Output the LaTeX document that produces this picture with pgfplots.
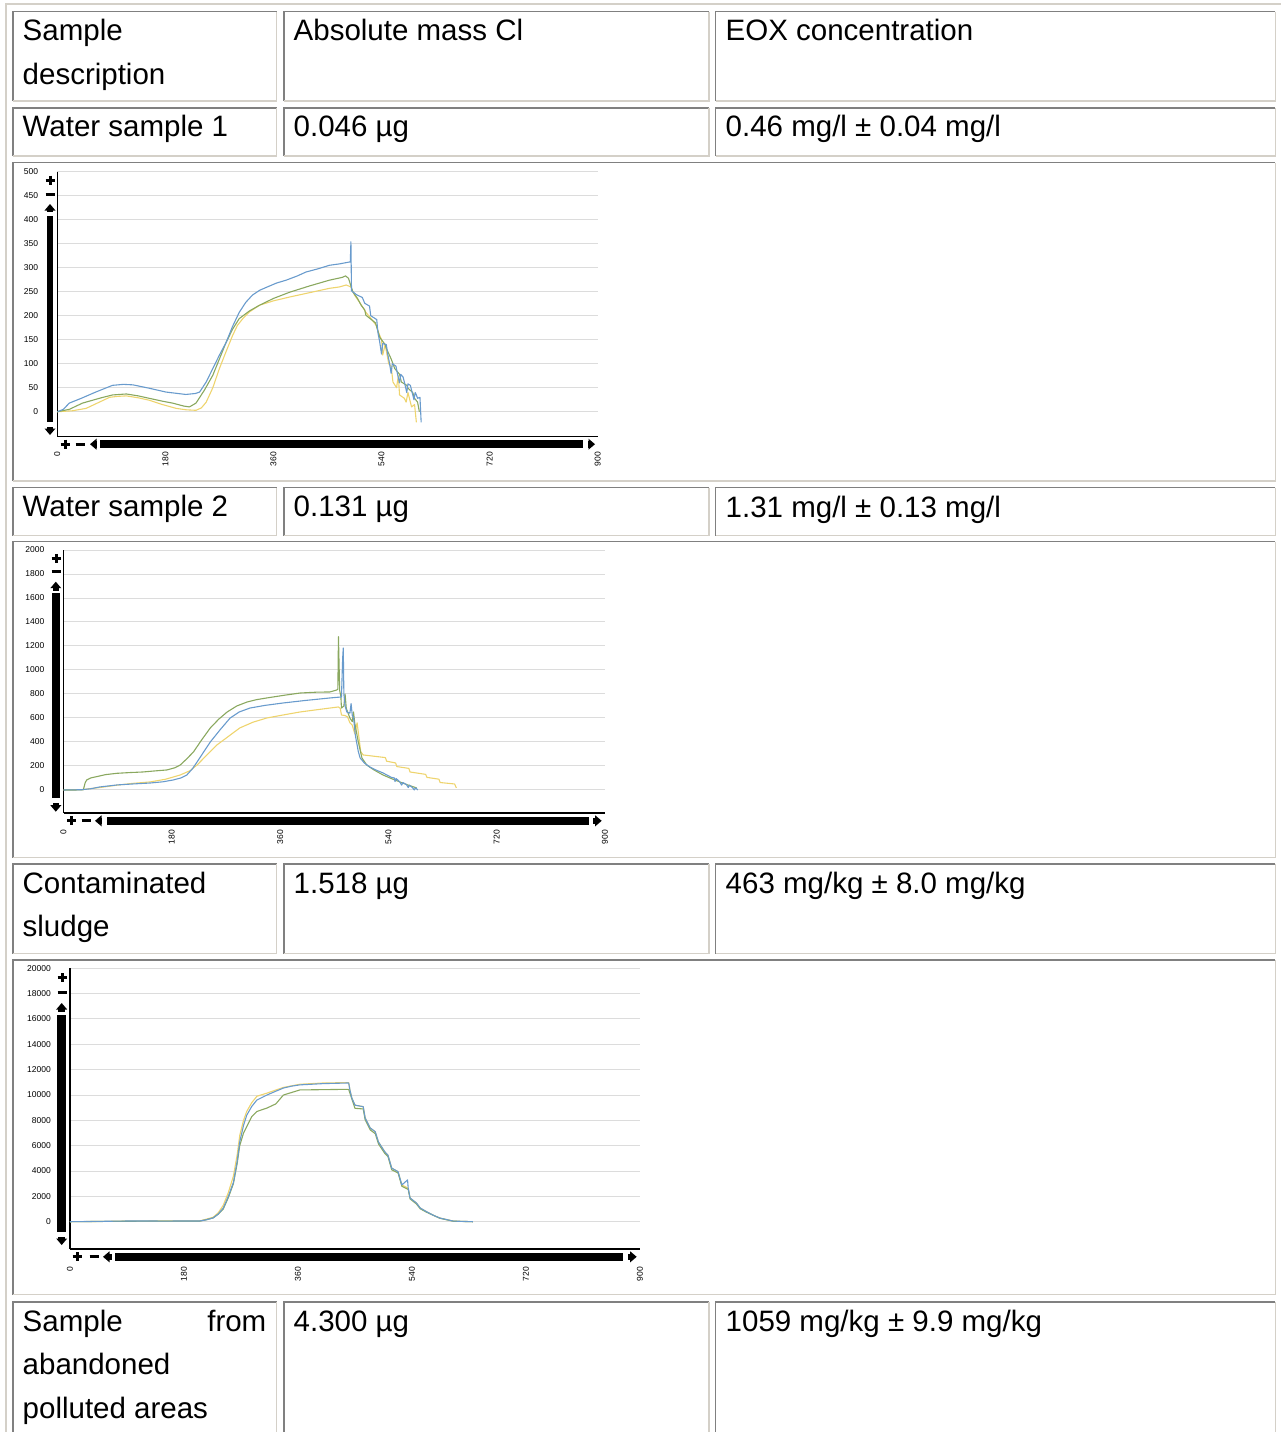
\documentclass[border=0pt]{standalone}
\usepackage{fontspec}
\setmainfont{Liberation Sans}
\usepackage{pgfplots}
\pgfplotsset{compat=1.18}
\definecolor{cblue}{RGB}{105,155,205}
\definecolor{cgreen}{RGB}{138,168,95}
\definecolor{cyellow}{RGB}{238,212,110}
\definecolor{gridgray}{RGB}{220,220,220}
\definecolor{darkb}{RGB}{128,128,128}
\definecolor{lightb}{RGB}{212,208,200}
\newcommand{\tfont}{\fontsize{29.5}{43.5}\selectfont}
\newcommand{\cell}[4]{%
  \draw[darkb, line width=1.5pt] (#1,#4) -- (#1,#2) -- (#3,#2);
  \draw[lightb, line width=1.5pt] (#3,#2) -- (#3,#4) -- (#1,#4);}
\newcommand{\plus}[2]{\draw[line width=3pt] (#1-4.5,#2)--(#1+4.5,#2) (#1,#2-4.5)--(#1,#2+4.5);}
\newcommand{\minus}[2]{\draw[line width=3pt] (#1-4.5,#2)--(#1+4.5,#2);}
\newcommand{\uparr}[3]{\fill (#1-5.5,#2+6.5) -- (#1,#2) -- (#1+5.5,#2+6.5) -- cycle; \fill (#1-3.3,#2+5) rectangle (#1+3.3,#3);}
\newcommand{\downarr}[3]{\fill (#1-5.5,#2-6.5) -- (#1,#2) -- (#1+5.5,#2-6.5) -- cycle; \fill (#1-3.3,#2-5) rectangle (#1+3.3,#3);}
\newcommand{\leftarr}[3]{\fill (#1+6.5,#2-5.5) -- (#1,#2) -- (#1+6.5,#2+5.5) -- cycle; \fill (#1+5,#2-3.3) rectangle (#3,#2+3.3);}
\newcommand{\rightarr}[3]{\fill (#1-6.5,#2-5.5) -- (#1,#2) -- (#1-6.5,#2+5.5) -- cycle; \fill (#1-5,#2-3.3) rectangle (#3,#2+3.3);}
\pgfplotsset{
  chartstyle/.style={
    scale only axis,
    anchor=south west,
    axis lines*=left,
    axis line style={black, line width=1.3pt},
    xmin=0, xmax=900,
    xtick={0,180,360,540,720,900},
    ymajorgrids,
    major grid style={color=gridgray, line width=1pt},
    major tick length=0pt,
    tick label style={font=\fontsize{8.5}{9}\selectfont, inner sep=0pt},
    xticklabel style={rotate=90, anchor=east},
    yticklabel style={anchor=east},
    yticklabel shift=19pt,
    /pgf/number format/assume math mode=true,
    /pgf/number format/1000 sep={},
    scaled ticks=false,
    every axis plot/.append style={line width=1.1pt, line join=round, no marks},
  }
}
\begin{document}
\begin{tikzpicture}
\useasboundingbox (0,0) rectangle (1281pt,-1432pt);
\begin{scope}
\clip (0,0) rectangle (1281pt,-1432pt);
\begin{scope}[x=1pt,y=-1pt]
% outer table border
\draw[lightb, line width=1.5pt] (5.8,1440) -- (5.8,4.2) -- (1281,4.2);
% row 1
\cell{13.2}{11.7}{276.5}{101}
\cell{284}{11.7}{709}{101}
\cell{715.5}{11.7}{1275.3}{101}
% row 2
\cell{13.2}{108}{276.5}{156}
\cell{284}{108}{709}{156}
\cell{715.5}{108}{1275.3}{156}
% row 3 chart
\cell{13.2}{162.7}{1275.3}{481}
% row 4
\cell{13.2}{487.7}{276.5}{535.5}
\cell{284}{487.7}{709}{535.5}
\cell{715.5}{487.7}{1275.3}{535.5}
% row 5 chart
\cell{13.2}{541.7}{1275.3}{857.7}
% row 6
\cell{13.2}{864}{276.5}{953.5}
\cell{284}{864}{709}{953.5}
\cell{715.5}{864}{1275.3}{953.5}
% row 7 chart
\cell{13.2}{960}{1275.3}{1294.5}
% row 8
\cell{13.2}{1302}{276.5}{1450}
\cell{284}{1302}{709}{1450}
\cell{715.5}{1302}{1275.3}{1450}
% texts
\tfont
\node[anchor=base west, inner sep=0] at (22.5,40.7) {Sample};
\node[anchor=base west, inner sep=0] at (22.5,84.2) {description};
\node[anchor=base west, inner sep=0] at (293.5,40.7) {Absolute mass Cl};
\node[anchor=base west, inner sep=0] at (725.5,40.7) {EOX concentration};
\node[anchor=base west, inner sep=0] at (22.5,136.8) {Water sample 1};
\node[anchor=base west, inner sep=0] at (293.5,136.8) {0.046 µg};
\node[anchor=base west, inner sep=0] at (725.5,136.8) {0.46 mg/l ± 0.04 mg/l};
\node[anchor=base west, inner sep=0] at (22.5,516.5) {Water sample 2};
\node[anchor=base west, inner sep=0] at (293.5,516.5) {0.131 µg};
\node[anchor=base west, inner sep=0] at (725.5,517.5) {1.31 mg/l ± 0.13 mg/l};
\node[anchor=base west, inner sep=0] at (22.5,893) {Contaminated};
\node[anchor=base west, inner sep=0] at (22.5,936.5) {sludge};
\node[anchor=base west, inner sep=0] at (293.5,893) {1.518 µg};
\node[anchor=base west, inner sep=0] at (725.5,893) {463 mg/kg ± 8.0 mg/kg};
\node[anchor=base west, inner sep=0] at (22.5,1331) {Sample};
\node[anchor=base east, inner sep=0] at (266.5,1331) {from};
\node[anchor=base west, inner sep=0] at (22.5,1374.5) {abandoned};
\node[anchor=base west, inner sep=0] at (22.5,1418) {polluted areas};
\node[anchor=base west, inner sep=0] at (293.5,1331) {4.300 µg};
\node[anchor=base west, inner sep=0] at (725.5,1331) {1059 mg/kg ± 9.9 mg/kg};
% chart 1 scroll decorations
\fill (46.7,215.7) rectangle (53.3,421.7);
\uparr{50}{204}{212}
\downarr{50}{435}{427}
\plus{50}{180}
\minus{50}{194.3}
\fill (100,440) rectangle (582.7,448.3);
\leftarr{90}{444.2}{97}
\rightarr{595}{444.2}{588}
\plus{65}{444.2}
\minus{80}{444.2}
% chart 2 scroll decorations
\fill (51.7,593.3) rectangle (60,798.3);
\uparr{55.8}{581.7}{591}
\downarr{55.8}{811.7}{803}
\plus{56}{558.3}
\minus{56}{571.7}
\fill (106.7,816.7) rectangle (589.3,825);
\leftarr{95}{820.8}{102}
\rightarr{601.7}{820.8}{593}
\plus{71.7}{820.8}
\minus{86}{820.8}
% chart 3 scroll decorations
\fill (57.3,1015) rectangle (66,1232.3);
\uparr{61.7}{1003}{1011.7}
\downarr{61.7}{1245}{1236.7}
\plus{62}{977.7}
\minus{62}{992.3}
\fill (115,1252.7) rectangle (623.3,1261);
\leftarr{103}{1256.8}{111.7}
\rightarr{636.7}{1256.8}{628}
\plus{77}{1256.8}
\minus{94}{1256.8}
\end{scope}
\end{scope}

% ---------------- chart 1 ----------------
\begin{axis}[chartstyle, at={(57.3pt,-436.7pt)}, width=540.4pt, height=265pt,
  ymin=-52, ymax=500, ytick={0,50,...,500}, xticklabel shift=15pt]
\addplot[cyellow] coordinates {(0,0) (25,2) (48,7) (70,20) (87,30) (100,32) (115,33) (135,29) (153,24) (175,15) (198,7) (215,4) (231,3) (240,8) (248,20) (259,50) (270,90) (281,125) (292,159) (300,180) (309,194) (320,208) (337,222) (360,231) (387,239) (420,248) (453,257) (470,260) (481,264) (489,260) (495,243) (505,225) (514,207) (522,195) (531,180) (535,165) (540,150) (542,118) (546,140) (552,100) (556,95) (559,62) (565,50) (568,75) (570,35) (578,28) (581,20) (584,40) (590,10) (595,15) (598,-22)};
\addplot[cgreen] coordinates {(0,0) (20,5) (42,18) (70,28) (92,35) (115,37) (135,33) (153,28) (175,22) (192,18) (210,12) (220,10) (231,18) (245,45) (259,76) (270,110) (281,144) (292,172) (303,194) (320,210) (337,222) (360,236) (387,249) (420,262) (453,274) (475,280) (480,283) (485,278) (492,250) (500,236) (506,222) (512,212) (514,201) (525,190) (530,185) (537,155) (546,140) (548,132) (556,110) (562,90) (570,78) (573,62) (582,55) (584,49) (592,40) (595,28) (600,20) (603,0)};
\addplot[cblue] coordinates {(0,0) (10,5) (20,18) (40,28) (64,41) (92,55) (110,57) (126,56) (153,49) (181,41) (214,36) (230,38) (237,41) (248,62) (259,90) (270,118) (281,144) (292,178) (303,207) (314,228) (325,243) (337,253) (348,259) (365,268) (381,274) (400,283) (414,291) (435,298) (453,305) (470,308) (487,312) (488,312) (489,354) (490,252) (498,244) (508,238) (512,226) (520,220) (522,200) (532,192) (534,165) (537,145) (540,120) (542,142) (548,140) (550,122) (553,103) (556,80) (558,100) (564,95) (566,82) (570,60) (572,78) (576,72) (578,62) (582,40) (584,58) (588,55) (590,45) (594,25) (596,40) (598,35) (600,28) (604,30) (606,-22)};
\end{axis}

% ---------------- chart 2 ----------------
\begin{axis}[chartstyle, at={(63.5pt,-813pt)}, width=541.5pt, height=263pt,
  ymin=-192, ymax=2000, ytick={0,200,...,2000}, xticklabel shift=17pt]
\addplot[cyellow] coordinates {(0,0) (30,3) (60,20) (89,40) (115,55) (144,67) (170,90) (194,125) (210,160) (222,208) (238,290) (255,375) (275,450) (293,517) (315,565) (338,600) (365,625) (393,650) (420,668) (443,683) (457,692) (460,680) (462,625) (468,620) (472,610) (476,560) (480,540) (484,470) (488,560) (490,480) (494,320) (498,292) (535,270) (537,240) (552,225) (554,195) (574,180) (576,150) (602,130) (604,105) (624,90) (626,62) (650,50) (653,17)};
\addplot[cgreen] coordinates {(0,0) (20,0) (33,2) (36,60) (38.5,83) (45,100) (55,111) (70,128) (89,139) (110,145) (132,150) (150,158) (172,167) (185,185) (194,208) (205,260) (216,317) (230,420) (244,517) (258,590) (272,650) (288,700) (305,733) (320,752) (338,767) (365,788) (393,808) (420,815) (443,817) (454,833) (456,840) (457,1278) (459,830) (461,780) (462,683) (466,700) (468,800) (470,680) (476,600) (480,570) (482,650) (484,560) (490,400) (496,267) (504,208) (515,170) (531,125) (545,95) (559,67) (572,42) (587,17)};
\addplot[cblue] coordinates {(0,0) (30,2) (45,10) (60,25) (89,42) (115,50) (144,58) (165,68) (182,83) (195,100) (205,125) (214,175) (222,233) (233,317) (244,400) (260,500) (277,600) (292,650) (310,683) (335,705) (365,725) (400,745) (443,767) (454,772) (462,775) (464,1100) (465,1183) (466,800) (468,700) (471,650) (476,640) (478,720) (480,620) (482,608) (485,458) (490,320) (493,267) (500,225) (509,192) (520,165) (531,142) (545,105) (550,100) (551,70) (553,95) (559,67) (562,40) (564,62) (570,45) (573,20) (575,40) (580,20) (583,0) (585,18) (589,0)};
\end{axis}

% ---------------- chart 3 ----------------
\begin{axis}[chartstyle, at={(70pt,-1249pt)}, width=570pt, height=280.7pt,
  ymin=-2155, ymax=20000, ytick={0,2000,...,20000}, xticklabel shift=18pt]
\addplot[cyellow] coordinates {(0,0) (100,50) (205,60) (215,200) (226,350) (234,700) (242,1300) (250,2300) (258,3600) (264,5300) (268,6800) (274,8000) (279,8700) (287,9400) (295,9900) (311,10150) (337,10600) (363,10850) (400,10950) (440,10980) (442,10400) (445,9760) (450,9200) (463,9080) (466,8200) (474,7400) (482,7100) (487,6300) (497,5520) (502,5260) (508,4230) (518,3950) (524,2900) (534,2650) (537,1870) (547,1480) (553,1080) (563,790) (574,500) (584,290) (605,50) (636,0)};
\addplot[cgreen] coordinates {(0,0) (100,40) (205,50) (215,150) (226,300) (234,600) (242,1000) (250,1900) (258,3000) (264,4600) (268,6000) (274,7000) (279,7500) (287,8300) (295,8700) (311,8970) (325,9300) (337,10000) (363,10400) (440,10450) (445,9700) (450,8950) (463,8900) (466,8050) (474,7250) (482,6950) (487,6150) (497,5400) (502,5150) (508,4100) (518,3850) (524,2800) (534,2550) (537,1800) (547,1400) (553,1020) (563,750) (584,270) (605,40) (636,0)};
\addplot[cblue] coordinates {(0,0) (50,30) (100,60) (150,50) (205,60) (215,150) (226,300) (234,600) (242,1080) (250,2000) (258,3100) (264,4800) (268,6300) (274,7600) (279,8400) (287,9100) (295,9600) (311,10000) (325,10300) (337,10550) (350,10700) (363,10800) (400,10900) (440,10950) (442,10400) (445,9760) (450,9200) (463,9080) (466,8200) (474,7400) (482,7100) (487,6300) (497,5520) (502,5260) (508,4230) (518,3950) (524,2900) (533,3300) (534,2650) (537,1870) (547,1480) (553,1080) (563,790) (574,500) (584,290) (605,50) (636,0)};
\end{axis}
\end{tikzpicture}
\end{document}
